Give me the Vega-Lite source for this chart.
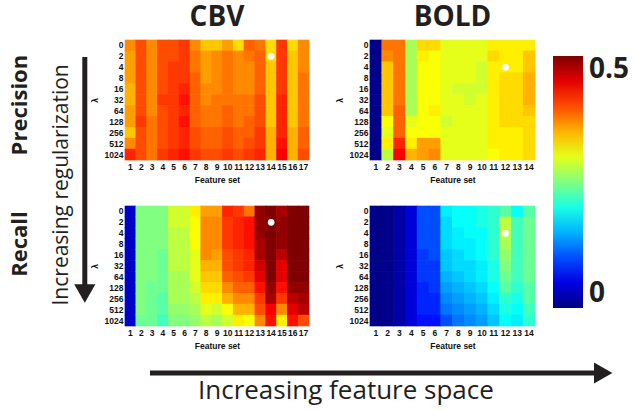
{
  "$schema": "https://vega.github.io/schema/vega-lite/v6.json",
  "padding": {"left": 5, "top": 3, "right": 2, "bottom": 2},
  "background": "white",
  "config": {
    "view": {"stroke": null},
    "axis": {"labelFont": "Liberation Sans", "labelFontWeight": "bold", "labelFontSize": 8.5, "labelColor": "#111", "titleFont": "Liberation Sans", "titleFontWeight": "bold", "titleFontSize": 8.5, "titleColor": "#111", "ticks": false, "domain": false, "labelPadding": 2, "titlePadding": 5, "grid": false, "labelOverlap": false},
    "title": {"font": "Open Sans", "fontSize": 28, "fontWeight": "bold", "color": "#231f20", "offset": 8, "frame": "group"},
    "text": {"font": "Open Sans", "color": "#231f20"},
    "rect": {"width": {"band": 1.06}, "height": {"band": 1.06}}
  },
  "datasets": {
    "cbvP": [
      {"f":1,"lambda":0,"v":0.37},{"f":1,"lambda":2,"v":0.36},{"f":1,"lambda":4,"v":0.36},{"f":1,"lambda":8,"v":0.36},{"f":1,"lambda":16,"v":0.35},{"f":1,"lambda":32,"v":0.35},{"f":1,"lambda":64,"v":0.36},{"f":1,"lambda":128,"v":0.36},{"f":1,"lambda":256,"v":0.34},{"f":1,"lambda":512,"v":0.37},{"f":1,"lambda":1024,"v":0.42},
      {"f":2,"lambda":0,"v":0.40},{"f":2,"lambda":2,"v":0.40},{"f":2,"lambda":4,"v":0.40},{"f":2,"lambda":8,"v":0.40},{"f":2,"lambda":16,"v":0.40},{"f":2,"lambda":32,"v":0.40},{"f":2,"lambda":64,"v":0.40},{"f":2,"lambda":128,"v":0.41},{"f":2,"lambda":256,"v":0.40},{"f":2,"lambda":512,"v":0.40},{"f":2,"lambda":1024,"v":0.40},
      {"f":3,"lambda":0,"v":0.37},{"f":3,"lambda":2,"v":0.37},{"f":3,"lambda":4,"v":0.37},{"f":3,"lambda":8,"v":0.37},{"f":3,"lambda":16,"v":0.37},{"f":3,"lambda":32,"v":0.37},{"f":3,"lambda":64,"v":0.37},{"f":3,"lambda":128,"v":0.38},{"f":3,"lambda":256,"v":0.38},{"f":3,"lambda":512,"v":0.38},{"f":3,"lambda":1024,"v":0.38},
      {"f":4,"lambda":0,"v":0.40},{"f":4,"lambda":2,"v":0.40},{"f":4,"lambda":4,"v":0.40},{"f":4,"lambda":8,"v":0.40},{"f":4,"lambda":16,"v":0.40},{"f":4,"lambda":32,"v":0.41},{"f":4,"lambda":64,"v":0.40},{"f":4,"lambda":128,"v":0.40},{"f":4,"lambda":256,"v":0.40},{"f":4,"lambda":512,"v":0.40},{"f":4,"lambda":1024,"v":0.41},
      {"f":5,"lambda":0,"v":0.40},{"f":5,"lambda":2,"v":0.40},{"f":5,"lambda":4,"v":0.41},{"f":5,"lambda":8,"v":0.41},{"f":5,"lambda":16,"v":0.41},{"f":5,"lambda":32,"v":0.41},{"f":5,"lambda":64,"v":0.41},{"f":5,"lambda":128,"v":0.41},{"f":5,"lambda":256,"v":0.41},{"f":5,"lambda":512,"v":0.41},{"f":5,"lambda":1024,"v":0.42},
      {"f":6,"lambda":0,"v":0.41},{"f":6,"lambda":2,"v":0.41},{"f":6,"lambda":4,"v":0.41},{"f":6,"lambda":8,"v":0.41},{"f":6,"lambda":16,"v":0.42},{"f":6,"lambda":32,"v":0.43},{"f":6,"lambda":64,"v":0.42},{"f":6,"lambda":128,"v":0.43},{"f":6,"lambda":256,"v":0.42},{"f":6,"lambda":512,"v":0.42},{"f":6,"lambda":1024,"v":0.43},
      {"f":7,"lambda":0,"v":0.37},{"f":7,"lambda":2,"v":0.38},{"f":7,"lambda":4,"v":0.38},{"f":7,"lambda":8,"v":0.39},{"f":7,"lambda":16,"v":0.39},{"f":7,"lambda":32,"v":0.39},{"f":7,"lambda":64,"v":0.39},{"f":7,"lambda":128,"v":0.39},{"f":7,"lambda":256,"v":0.40},{"f":7,"lambda":512,"v":0.40},{"f":7,"lambda":1024,"v":0.41},
      {"f":8,"lambda":0,"v":0.34},{"f":8,"lambda":2,"v":0.36},{"f":8,"lambda":4,"v":0.36},{"f":8,"lambda":8,"v":0.36},{"f":8,"lambda":16,"v":0.37},{"f":8,"lambda":32,"v":0.37},{"f":8,"lambda":64,"v":0.38},{"f":8,"lambda":128,"v":0.38},{"f":8,"lambda":256,"v":0.39},{"f":8,"lambda":512,"v":0.39},{"f":8,"lambda":1024,"v":0.40},
      {"f":9,"lambda":0,"v":0.34},{"f":9,"lambda":2,"v":0.37},{"f":9,"lambda":4,"v":0.37},{"f":9,"lambda":8,"v":0.37},{"f":9,"lambda":16,"v":0.37},{"f":9,"lambda":32,"v":0.38},{"f":9,"lambda":64,"v":0.38},{"f":9,"lambda":128,"v":0.38},{"f":9,"lambda":256,"v":0.39},{"f":9,"lambda":512,"v":0.39},{"f":9,"lambda":1024,"v":0.40},
      {"f":10,"lambda":0,"v":0.36},{"f":10,"lambda":2,"v":0.38},{"f":10,"lambda":4,"v":0.38},{"f":10,"lambda":8,"v":0.38},{"f":10,"lambda":16,"v":0.38},{"f":10,"lambda":32,"v":0.38},{"f":10,"lambda":64,"v":0.39},{"f":10,"lambda":128,"v":0.39},{"f":10,"lambda":256,"v":0.40},{"f":10,"lambda":512,"v":0.40},{"f":10,"lambda":1024,"v":0.41},
      {"f":11,"lambda":0,"v":0.33},{"f":11,"lambda":2,"v":0.37},{"f":11,"lambda":4,"v":0.37},{"f":11,"lambda":8,"v":0.37},{"f":11,"lambda":16,"v":0.37},{"f":11,"lambda":32,"v":0.38},{"f":11,"lambda":64,"v":0.38},{"f":11,"lambda":128,"v":0.38},{"f":11,"lambda":256,"v":0.39},{"f":11,"lambda":512,"v":0.39},{"f":11,"lambda":1024,"v":0.40},
      {"f":12,"lambda":0,"v":0.39},{"f":12,"lambda":2,"v":0.38},{"f":12,"lambda":4,"v":0.37},{"f":12,"lambda":8,"v":0.37},{"f":12,"lambda":16,"v":0.37},{"f":12,"lambda":32,"v":0.38},{"f":12,"lambda":64,"v":0.38},{"f":12,"lambda":128,"v":0.39},{"f":12,"lambda":256,"v":0.39},{"f":12,"lambda":512,"v":0.40},{"f":12,"lambda":1024,"v":0.41},
      {"f":13,"lambda":0,"v":0.38},{"f":13,"lambda":2,"v":0.39},{"f":13,"lambda":4,"v":0.39},{"f":13,"lambda":8,"v":0.39},{"f":13,"lambda":16,"v":0.39},{"f":13,"lambda":32,"v":0.40},{"f":13,"lambda":64,"v":0.40},{"f":13,"lambda":128,"v":0.40},{"f":13,"lambda":256,"v":0.41},{"f":13,"lambda":512,"v":0.41},{"f":13,"lambda":1024,"v":0.42},
      {"f":14,"lambda":0,"v":0.33},{"f":14,"lambda":2,"v":0.33},{"f":14,"lambda":4,"v":0.34},{"f":14,"lambda":8,"v":0.34},{"f":14,"lambda":16,"v":0.34},{"f":14,"lambda":32,"v":0.34},{"f":14,"lambda":64,"v":0.34},{"f":14,"lambda":128,"v":0.34},{"f":14,"lambda":256,"v":0.35},{"f":14,"lambda":512,"v":0.35},{"f":14,"lambda":1024,"v":0.35},
      {"f":15,"lambda":0,"v":0.41},{"f":15,"lambda":2,"v":0.41},{"f":15,"lambda":4,"v":0.41},{"f":15,"lambda":8,"v":0.41},{"f":15,"lambda":16,"v":0.41},{"f":15,"lambda":32,"v":0.42},{"f":15,"lambda":64,"v":0.42},{"f":15,"lambda":128,"v":0.42},{"f":15,"lambda":256,"v":0.42},{"f":15,"lambda":512,"v":0.43},{"f":15,"lambda":1024,"v":0.44},
      {"f":16,"lambda":0,"v":0.33},{"f":16,"lambda":2,"v":0.34},{"f":16,"lambda":4,"v":0.34},{"f":16,"lambda":8,"v":0.34},{"f":16,"lambda":16,"v":0.34},{"f":16,"lambda":32,"v":0.34},{"f":16,"lambda":64,"v":0.34},{"f":16,"lambda":128,"v":0.34},{"f":16,"lambda":256,"v":0.35},{"f":16,"lambda":512,"v":0.35},{"f":16,"lambda":1024,"v":0.35},
      {"f":17,"lambda":0,"v":0.37},{"f":17,"lambda":2,"v":0.37},{"f":17,"lambda":4,"v":0.37},{"f":17,"lambda":8,"v":0.38},{"f":17,"lambda":16,"v":0.38},{"f":17,"lambda":32,"v":0.38},{"f":17,"lambda":64,"v":0.38},{"f":17,"lambda":128,"v":0.38},{"f":17,"lambda":256,"v":0.39},{"f":17,"lambda":512,"v":0.39},{"f":17,"lambda":1024,"v":0.40}
    ],
    "cbvR": [
      {"f":1,"lambda":0,"v":0.035},{"f":1,"lambda":2,"v":0.035},{"f":1,"lambda":4,"v":0.035},{"f":1,"lambda":8,"v":0.035},{"f":1,"lambda":16,"v":0.035},{"f":1,"lambda":32,"v":0.035},{"f":1,"lambda":64,"v":0.035},{"f":1,"lambda":128,"v":0.035},{"f":1,"lambda":256,"v":0.035},{"f":1,"lambda":512,"v":0.035},{"f":1,"lambda":1024,"v":0.035},
      {"f":2,"lambda":0,"v":0.25},{"f":2,"lambda":2,"v":0.25},{"f":2,"lambda":4,"v":0.25},{"f":2,"lambda":8,"v":0.25},{"f":2,"lambda":16,"v":0.25},{"f":2,"lambda":32,"v":0.25},{"f":2,"lambda":64,"v":0.25},{"f":2,"lambda":128,"v":0.25},{"f":2,"lambda":256,"v":0.25},{"f":2,"lambda":512,"v":0.25},{"f":2,"lambda":1024,"v":0.24},
      {"f":3,"lambda":0,"v":0.25},{"f":3,"lambda":2,"v":0.25},{"f":3,"lambda":4,"v":0.25},{"f":3,"lambda":8,"v":0.25},{"f":3,"lambda":16,"v":0.25},{"f":3,"lambda":32,"v":0.25},{"f":3,"lambda":64,"v":0.25},{"f":3,"lambda":128,"v":0.24},{"f":3,"lambda":256,"v":0.24},{"f":3,"lambda":512,"v":0.24},{"f":3,"lambda":1024,"v":0.24},
      {"f":4,"lambda":0,"v":0.25},{"f":4,"lambda":2,"v":0.25},{"f":4,"lambda":4,"v":0.25},{"f":4,"lambda":8,"v":0.25},{"f":4,"lambda":16,"v":0.24},{"f":4,"lambda":32,"v":0.24},{"f":4,"lambda":64,"v":0.24},{"f":4,"lambda":128,"v":0.24},{"f":4,"lambda":256,"v":0.23},{"f":4,"lambda":512,"v":0.23},{"f":4,"lambda":1024,"v":0.22},
      {"f":5,"lambda":0,"v":0.29},{"f":5,"lambda":2,"v":0.29},{"f":5,"lambda":4,"v":0.28},{"f":5,"lambda":8,"v":0.28},{"f":5,"lambda":16,"v":0.28},{"f":5,"lambda":32,"v":0.28},{"f":5,"lambda":64,"v":0.27},{"f":5,"lambda":128,"v":0.27},{"f":5,"lambda":256,"v":0.27},{"f":5,"lambda":512,"v":0.26},{"f":5,"lambda":1024,"v":0.25},
      {"f":6,"lambda":0,"v":0.29},{"f":6,"lambda":2,"v":0.29},{"f":6,"lambda":4,"v":0.28},{"f":6,"lambda":8,"v":0.28},{"f":6,"lambda":16,"v":0.28},{"f":6,"lambda":32,"v":0.28},{"f":6,"lambda":64,"v":0.27},{"f":6,"lambda":128,"v":0.27},{"f":6,"lambda":256,"v":0.27},{"f":6,"lambda":512,"v":0.26},{"f":6,"lambda":1024,"v":0.25},
      {"f":7,"lambda":0,"v":0.32},{"f":7,"lambda":2,"v":0.31},{"f":7,"lambda":4,"v":0.31},{"f":7,"lambda":8,"v":0.31},{"f":7,"lambda":16,"v":0.30},{"f":7,"lambda":32,"v":0.30},{"f":7,"lambda":64,"v":0.30},{"f":7,"lambda":128,"v":0.29},{"f":7,"lambda":256,"v":0.28},{"f":7,"lambda":512,"v":0.27},{"f":7,"lambda":1024,"v":0.26},
      {"f":8,"lambda":0,"v":0.36},{"f":8,"lambda":2,"v":0.37},{"f":8,"lambda":4,"v":0.37},{"f":8,"lambda":8,"v":0.37},{"f":8,"lambda":16,"v":0.37},{"f":8,"lambda":32,"v":0.35},{"f":8,"lambda":64,"v":0.34},{"f":8,"lambda":128,"v":0.33},{"f":8,"lambda":256,"v":0.32},{"f":8,"lambda":512,"v":0.30},{"f":8,"lambda":1024,"v":0.28},
      {"f":9,"lambda":0,"v":0.36},{"f":9,"lambda":2,"v":0.37},{"f":9,"lambda":4,"v":0.37},{"f":9,"lambda":8,"v":0.37},{"f":9,"lambda":16,"v":0.36},{"f":9,"lambda":32,"v":0.35},{"f":9,"lambda":64,"v":0.34},{"f":9,"lambda":128,"v":0.33},{"f":9,"lambda":256,"v":0.32},{"f":9,"lambda":512,"v":0.29},{"f":9,"lambda":1024,"v":0.27},
      {"f":10,"lambda":0,"v":0.42},{"f":10,"lambda":2,"v":0.41},{"f":10,"lambda":4,"v":0.41},{"f":10,"lambda":8,"v":0.41},{"f":10,"lambda":16,"v":0.40},{"f":10,"lambda":32,"v":0.40},{"f":10,"lambda":64,"v":0.39},{"f":10,"lambda":128,"v":0.37},{"f":10,"lambda":256,"v":0.35},{"f":10,"lambda":512,"v":0.31},{"f":10,"lambda":1024,"v":0.29},
      {"f":11,"lambda":0,"v":0.41},{"f":11,"lambda":2,"v":0.42},{"f":11,"lambda":4,"v":0.42},{"f":11,"lambda":8,"v":0.42},{"f":11,"lambda":16,"v":0.41},{"f":11,"lambda":32,"v":0.41},{"f":11,"lambda":64,"v":0.40},{"f":11,"lambda":128,"v":0.39},{"f":11,"lambda":256,"v":0.37},{"f":11,"lambda":512,"v":0.35},{"f":11,"lambda":1024,"v":0.32},
      {"f":12,"lambda":0,"v":0.38},{"f":12,"lambda":2,"v":0.43},{"f":12,"lambda":4,"v":0.43},{"f":12,"lambda":8,"v":0.43},{"f":12,"lambda":16,"v":0.42},{"f":12,"lambda":32,"v":0.42},{"f":12,"lambda":64,"v":0.41},{"f":12,"lambda":128,"v":0.39},{"f":12,"lambda":256,"v":0.37},{"f":12,"lambda":512,"v":0.35},{"f":12,"lambda":1024,"v":0.31},
      {"f":13,"lambda":0,"v":0.49},{"f":13,"lambda":2,"v":0.49},{"f":13,"lambda":4,"v":0.49},{"f":13,"lambda":8,"v":0.48},{"f":13,"lambda":16,"v":0.48},{"f":13,"lambda":32,"v":0.46},{"f":13,"lambda":64,"v":0.45},{"f":13,"lambda":128,"v":0.43},{"f":13,"lambda":256,"v":0.41},{"f":13,"lambda":512,"v":0.40},{"f":13,"lambda":1024,"v":0.37},
      {"f":14,"lambda":0,"v":0.50},{"f":14,"lambda":2,"v":0.50},{"f":14,"lambda":4,"v":0.50},{"f":14,"lambda":8,"v":0.50},{"f":14,"lambda":16,"v":0.50},{"f":14,"lambda":32,"v":0.50},{"f":14,"lambda":64,"v":0.50},{"f":14,"lambda":128,"v":0.49},{"f":14,"lambda":256,"v":0.48},{"f":14,"lambda":512,"v":0.44},{"f":14,"lambda":1024,"v":0.43},
      {"f":15,"lambda":0,"v":0.48},{"f":15,"lambda":2,"v":0.49},{"f":15,"lambda":4,"v":0.49},{"f":15,"lambda":8,"v":0.49},{"f":15,"lambda":16,"v":0.47},{"f":15,"lambda":32,"v":0.45},{"f":15,"lambda":64,"v":0.45},{"f":15,"lambda":128,"v":0.43},{"f":15,"lambda":256,"v":0.41},{"f":15,"lambda":512,"v":0.37},{"f":15,"lambda":1024,"v":0.32},
      {"f":16,"lambda":0,"v":0.50},{"f":16,"lambda":2,"v":0.50},{"f":16,"lambda":4,"v":0.50},{"f":16,"lambda":8,"v":0.50},{"f":16,"lambda":16,"v":0.50},{"f":16,"lambda":32,"v":0.50},{"f":16,"lambda":64,"v":0.50},{"f":16,"lambda":128,"v":0.49},{"f":16,"lambda":256,"v":0.47},{"f":16,"lambda":512,"v":0.45},{"f":16,"lambda":1024,"v":0.43},
      {"f":17,"lambda":0,"v":0.50},{"f":17,"lambda":2,"v":0.50},{"f":17,"lambda":4,"v":0.50},{"f":17,"lambda":8,"v":0.50},{"f":17,"lambda":16,"v":0.50},{"f":17,"lambda":32,"v":0.50},{"f":17,"lambda":64,"v":0.50},{"f":17,"lambda":128,"v":0.49},{"f":17,"lambda":256,"v":0.48},{"f":17,"lambda":512,"v":0.47},{"f":17,"lambda":1024,"v":0.40}
    ],
    "boldP": [
      {"f":1,"lambda":0,"v":0.005},{"f":1,"lambda":2,"v":0.005},{"f":1,"lambda":4,"v":0.005},{"f":1,"lambda":8,"v":0.005},{"f":1,"lambda":16,"v":0.005},{"f":1,"lambda":32,"v":0.005},{"f":1,"lambda":64,"v":0.005},{"f":1,"lambda":128,"v":0.005},{"f":1,"lambda":256,"v":0.005},{"f":1,"lambda":512,"v":0.005},{"f":1,"lambda":1024,"v":0.005},
      {"f":2,"lambda":0,"v":0.38},{"f":2,"lambda":2,"v":0.37},{"f":2,"lambda":4,"v":0.34},{"f":2,"lambda":8,"v":0.34},{"f":2,"lambda":16,"v":0.34},{"f":2,"lambda":32,"v":0.34},{"f":2,"lambda":64,"v":0.34},{"f":2,"lambda":128,"v":0.31},{"f":2,"lambda":256,"v":0.30},{"f":2,"lambda":512,"v":0.32},{"f":2,"lambda":1024,"v":0.28},
      {"f":3,"lambda":0,"v":0.38},{"f":3,"lambda":2,"v":0.38},{"f":3,"lambda":4,"v":0.38},{"f":3,"lambda":8,"v":0.38},{"f":3,"lambda":16,"v":0.38},{"f":3,"lambda":32,"v":0.38},{"f":3,"lambda":64,"v":0.39},{"f":3,"lambda":128,"v":0.39},{"f":3,"lambda":256,"v":0.39},{"f":3,"lambda":512,"v":0.42},{"f":3,"lambda":1024,"v":0.44},
      {"f":4,"lambda":0,"v":0.27},{"f":4,"lambda":2,"v":0.27},{"f":4,"lambda":4,"v":0.27},{"f":4,"lambda":8,"v":0.27},{"f":4,"lambda":16,"v":0.27},{"f":4,"lambda":32,"v":0.27},{"f":4,"lambda":64,"v":0.27},{"f":4,"lambda":128,"v":0.30},{"f":4,"lambda":256,"v":0.31},{"f":4,"lambda":512,"v":0.32},{"f":4,"lambda":1024,"v":0.35},
      {"f":5,"lambda":0,"v":0.33},{"f":5,"lambda":2,"v":0.32},{"f":5,"lambda":4,"v":0.31},{"f":5,"lambda":8,"v":0.31},{"f":5,"lambda":16,"v":0.31},{"f":5,"lambda":32,"v":0.31},{"f":5,"lambda":64,"v":0.31},{"f":5,"lambda":128,"v":0.31},{"f":5,"lambda":256,"v":0.31},{"f":5,"lambda":512,"v":0.36},{"f":5,"lambda":1024,"v":0.36},
      {"f":6,"lambda":0,"v":0.33},{"f":6,"lambda":2,"v":0.31},{"f":6,"lambda":4,"v":0.31},{"f":6,"lambda":8,"v":0.31},{"f":6,"lambda":16,"v":0.31},{"f":6,"lambda":32,"v":0.31},{"f":6,"lambda":64,"v":0.32},{"f":6,"lambda":128,"v":0.31},{"f":6,"lambda":256,"v":0.31},{"f":6,"lambda":512,"v":0.36},{"f":6,"lambda":1024,"v":0.37},
      {"f":7,"lambda":0,"v":0.30},{"f":7,"lambda":2,"v":0.30},{"f":7,"lambda":4,"v":0.30},{"f":7,"lambda":8,"v":0.30},{"f":7,"lambda":16,"v":0.30},{"f":7,"lambda":32,"v":0.30},{"f":7,"lambda":64,"v":0.30},{"f":7,"lambda":128,"v":0.29},{"f":7,"lambda":256,"v":0.30},{"f":7,"lambda":512,"v":0.30},{"f":7,"lambda":1024,"v":0.30},
      {"f":8,"lambda":0,"v":0.30},{"f":8,"lambda":2,"v":0.30},{"f":8,"lambda":4,"v":0.30},{"f":8,"lambda":8,"v":0.30},{"f":8,"lambda":16,"v":0.29},{"f":8,"lambda":32,"v":0.30},{"f":8,"lambda":64,"v":0.30},{"f":8,"lambda":128,"v":0.30},{"f":8,"lambda":256,"v":0.30},{"f":8,"lambda":512,"v":0.30},{"f":8,"lambda":1024,"v":0.30},
      {"f":9,"lambda":0,"v":0.30},{"f":9,"lambda":2,"v":0.30},{"f":9,"lambda":4,"v":0.30},{"f":9,"lambda":8,"v":0.30},{"f":9,"lambda":16,"v":0.29},{"f":9,"lambda":32,"v":0.29},{"f":9,"lambda":64,"v":0.30},{"f":9,"lambda":128,"v":0.30},{"f":9,"lambda":256,"v":0.30},{"f":9,"lambda":512,"v":0.30},{"f":9,"lambda":1024,"v":0.30},
      {"f":10,"lambda":0,"v":0.30},{"f":10,"lambda":2,"v":0.30},{"f":10,"lambda":4,"v":0.29},{"f":10,"lambda":8,"v":0.29},{"f":10,"lambda":16,"v":0.29},{"f":10,"lambda":32,"v":0.30},{"f":10,"lambda":64,"v":0.30},{"f":10,"lambda":128,"v":0.30},{"f":10,"lambda":256,"v":0.30},{"f":10,"lambda":512,"v":0.30},{"f":10,"lambda":1024,"v":0.30},
      {"f":11,"lambda":0,"v":0.32},{"f":11,"lambda":2,"v":0.33},{"f":11,"lambda":4,"v":0.32},{"f":11,"lambda":8,"v":0.32},{"f":11,"lambda":16,"v":0.32},{"f":11,"lambda":32,"v":0.32},{"f":11,"lambda":64,"v":0.32},{"f":11,"lambda":128,"v":0.32},{"f":11,"lambda":256,"v":0.32},{"f":11,"lambda":512,"v":0.32},{"f":11,"lambda":1024,"v":0.31},
      {"f":12,"lambda":0,"v":0.32},{"f":12,"lambda":2,"v":0.32},{"f":12,"lambda":4,"v":0.32},{"f":12,"lambda":8,"v":0.33},{"f":12,"lambda":16,"v":0.33},{"f":12,"lambda":32,"v":0.33},{"f":12,"lambda":64,"v":0.33},{"f":12,"lambda":128,"v":0.33},{"f":12,"lambda":256,"v":0.32},{"f":12,"lambda":512,"v":0.32},{"f":12,"lambda":1024,"v":0.32},
      {"f":13,"lambda":0,"v":0.32},{"f":13,"lambda":2,"v":0.32},{"f":13,"lambda":4,"v":0.32},{"f":13,"lambda":8,"v":0.33},{"f":13,"lambda":16,"v":0.33},{"f":13,"lambda":32,"v":0.33},{"f":13,"lambda":64,"v":0.33},{"f":13,"lambda":128,"v":0.33},{"f":13,"lambda":256,"v":0.32},{"f":13,"lambda":512,"v":0.32},{"f":13,"lambda":1024,"v":0.32},
      {"f":14,"lambda":0,"v":0.32},{"f":14,"lambda":2,"v":0.34},{"f":14,"lambda":4,"v":0.34},{"f":14,"lambda":8,"v":0.35},{"f":14,"lambda":16,"v":0.35},{"f":14,"lambda":32,"v":0.35},{"f":14,"lambda":64,"v":0.34},{"f":14,"lambda":128,"v":0.33},{"f":14,"lambda":256,"v":0.33},{"f":14,"lambda":512,"v":0.33},{"f":14,"lambda":1024,"v":0.33}
    ],
    "boldR": [
      {"f":1,"lambda":0,"v":0.005},{"f":1,"lambda":2,"v":0.005},{"f":1,"lambda":4,"v":0.005},{"f":1,"lambda":8,"v":0.005},{"f":1,"lambda":16,"v":0.005},{"f":1,"lambda":32,"v":0.005},{"f":1,"lambda":64,"v":0.005},{"f":1,"lambda":128,"v":0.005},{"f":1,"lambda":256,"v":0.005},{"f":1,"lambda":512,"v":0.005},{"f":1,"lambda":1024,"v":0.005},
      {"f":2,"lambda":0,"v":0.005},{"f":2,"lambda":2,"v":0.005},{"f":2,"lambda":4,"v":0.005},{"f":2,"lambda":8,"v":0.005},{"f":2,"lambda":16,"v":0.005},{"f":2,"lambda":32,"v":0.005},{"f":2,"lambda":64,"v":0.005},{"f":2,"lambda":128,"v":0.005},{"f":2,"lambda":256,"v":0.005},{"f":2,"lambda":512,"v":0.005},{"f":2,"lambda":1024,"v":0.005},
      {"f":3,"lambda":0,"v":0.02},{"f":3,"lambda":2,"v":0.02},{"f":3,"lambda":4,"v":0.02},{"f":3,"lambda":8,"v":0.02},{"f":3,"lambda":16,"v":0.02},{"f":3,"lambda":32,"v":0.02},{"f":3,"lambda":64,"v":0.02},{"f":3,"lambda":128,"v":0.02},{"f":3,"lambda":256,"v":0.02},{"f":3,"lambda":512,"v":0.02},{"f":3,"lambda":1024,"v":0.02},
      {"f":4,"lambda":0,"v":0.045},{"f":4,"lambda":2,"v":0.045},{"f":4,"lambda":4,"v":0.045},{"f":4,"lambda":8,"v":0.045},{"f":4,"lambda":16,"v":0.045},{"f":4,"lambda":32,"v":0.045},{"f":4,"lambda":64,"v":0.045},{"f":4,"lambda":128,"v":0.045},{"f":4,"lambda":256,"v":0.045},{"f":4,"lambda":512,"v":0.045},{"f":4,"lambda":1024,"v":0.045},
      {"f":5,"lambda":0,"v":0.10},{"f":5,"lambda":2,"v":0.10},{"f":5,"lambda":4,"v":0.10},{"f":5,"lambda":8,"v":0.10},{"f":5,"lambda":16,"v":0.09},{"f":5,"lambda":32,"v":0.09},{"f":5,"lambda":64,"v":0.09},{"f":5,"lambda":128,"v":0.08},{"f":5,"lambda":256,"v":0.08},{"f":5,"lambda":512,"v":0.08},{"f":5,"lambda":1024,"v":0.07},
      {"f":6,"lambda":0,"v":0.10},{"f":6,"lambda":2,"v":0.10},{"f":6,"lambda":4,"v":0.10},{"f":6,"lambda":8,"v":0.10},{"f":6,"lambda":16,"v":0.10},{"f":6,"lambda":32,"v":0.09},{"f":6,"lambda":64,"v":0.09},{"f":6,"lambda":128,"v":0.09},{"f":6,"lambda":256,"v":0.08},{"f":6,"lambda":512,"v":0.08},{"f":6,"lambda":1024,"v":0.07},
      {"f":7,"lambda":0,"v":0.18},{"f":7,"lambda":2,"v":0.17},{"f":7,"lambda":4,"v":0.17},{"f":7,"lambda":8,"v":0.17},{"f":7,"lambda":16,"v":0.16},{"f":7,"lambda":32,"v":0.16},{"f":7,"lambda":64,"v":0.15},{"f":7,"lambda":128,"v":0.14},{"f":7,"lambda":256,"v":0.13},{"f":7,"lambda":512,"v":0.12},{"f":7,"lambda":1024,"v":0.10},
      {"f":8,"lambda":0,"v":0.19},{"f":8,"lambda":2,"v":0.19},{"f":8,"lambda":4,"v":0.18},{"f":8,"lambda":8,"v":0.18},{"f":8,"lambda":16,"v":0.17},{"f":8,"lambda":32,"v":0.17},{"f":8,"lambda":64,"v":0.16},{"f":8,"lambda":128,"v":0.15},{"f":8,"lambda":256,"v":0.14},{"f":8,"lambda":512,"v":0.13},{"f":8,"lambda":1024,"v":0.12},
      {"f":9,"lambda":0,"v":0.19},{"f":9,"lambda":2,"v":0.19},{"f":9,"lambda":4,"v":0.19},{"f":9,"lambda":8,"v":0.18},{"f":9,"lambda":16,"v":0.18},{"f":9,"lambda":32,"v":0.17},{"f":9,"lambda":64,"v":0.17},{"f":9,"lambda":128,"v":0.16},{"f":9,"lambda":256,"v":0.15},{"f":9,"lambda":512,"v":0.14},{"f":9,"lambda":1024,"v":0.13},
      {"f":10,"lambda":0,"v":0.20},{"f":10,"lambda":2,"v":0.20},{"f":10,"lambda":4,"v":0.19},{"f":10,"lambda":8,"v":0.19},{"f":10,"lambda":16,"v":0.19},{"f":10,"lambda":32,"v":0.18},{"f":10,"lambda":64,"v":0.18},{"f":10,"lambda":128,"v":0.17},{"f":10,"lambda":256,"v":0.16},{"f":10,"lambda":512,"v":0.15},{"f":10,"lambda":1024,"v":0.14},
      {"f":11,"lambda":0,"v":0.21},{"f":11,"lambda":2,"v":0.21},{"f":11,"lambda":4,"v":0.21},{"f":11,"lambda":8,"v":0.21},{"f":11,"lambda":16,"v":0.21},{"f":11,"lambda":32,"v":0.20},{"f":11,"lambda":64,"v":0.20},{"f":11,"lambda":128,"v":0.19},{"f":11,"lambda":256,"v":0.18},{"f":11,"lambda":512,"v":0.17},{"f":11,"lambda":1024,"v":0.16},
      {"f":12,"lambda":0,"v":0.23},{"f":12,"lambda":2,"v":0.28},{"f":12,"lambda":4,"v":0.28},{"f":12,"lambda":8,"v":0.27},{"f":12,"lambda":16,"v":0.26},{"f":12,"lambda":32,"v":0.25},{"f":12,"lambda":64,"v":0.24},{"f":12,"lambda":128,"v":0.23},{"f":12,"lambda":256,"v":0.21},{"f":12,"lambda":512,"v":0.20},{"f":12,"lambda":1024,"v":0.19},
      {"f":13,"lambda":0,"v":0.19},{"f":13,"lambda":2,"v":0.22},{"f":13,"lambda":4,"v":0.22},{"f":13,"lambda":8,"v":0.22},{"f":13,"lambda":16,"v":0.22},{"f":13,"lambda":32,"v":0.22},{"f":13,"lambda":64,"v":0.22},{"f":13,"lambda":128,"v":0.21},{"f":13,"lambda":256,"v":0.20},{"f":13,"lambda":512,"v":0.19},{"f":13,"lambda":1024,"v":0.18},
      {"f":14,"lambda":0,"v":0.23},{"f":14,"lambda":2,"v":0.24},{"f":14,"lambda":4,"v":0.24},{"f":14,"lambda":8,"v":0.24},{"f":14,"lambda":16,"v":0.24},{"f":14,"lambda":32,"v":0.24},{"f":14,"lambda":64,"v":0.24},{"f":14,"lambda":128,"v":0.23},{"f":14,"lambda":256,"v":0.23},{"f":14,"lambda":512,"v":0.22},{"f":14,"lambda":1024,"v":0.21}
    ]
  },
  "vconcat": [
    {
      "hconcat": [
        {
          "width": 76, "height": 300,
          "data": {"values": [{}]},
          "layer": [
            {"mark": {"type": "text", "text": "Precision", "angle": 270, "fontSize": 22, "fontWeight": "bold"}, "encoding": {"x": {"datum": 0.197, "type": "quantitative", "scale": {"domain": [0, 1], "nice": false, "zero": false}, "axis": null}, "y": {"datum": 0.217, "type": "quantitative", "scale": {"domain": [0, 1], "reverse": true, "nice": false, "zero": false}, "axis": null}}},
            {"mark": {"type": "text", "text": "Recall", "angle": 270, "fontSize": 22, "fontWeight": "bold"}, "encoding": {"x": {"datum": 0.197, "type": "quantitative"}, "y": {"datum": 0.68, "type": "quantitative"}}},
            {"mark": {"type": "text", "text": "Increasing regularization", "angle": 270, "fontSize": 21}, "encoding": {"x": {"datum": 0.75, "type": "quantitative"}, "y": {"datum": 0.483, "type": "quantitative"}}},
            {"mark": {"type": "rule", "strokeWidth": 5, "color": "#231f20"}, "encoding": {"x": {"datum": 1.05, "type": "quantitative"}, "y": {"datum": 0.057, "type": "quantitative"}, "y2": {"datum": 0.82}}},
            {"mark": {"type": "point", "shape": "triangle-down", "filled": true, "size": 450, "color": "#231f20", "opacity": 1}, "encoding": {"x": {"datum": 1.05, "type": "quantitative"}, "y": {"datum": 0.845, "type": "quantitative"}}}
          ]
        },
        {
          "spacing": 21,
          "vconcat": [
            {
              "spacing": 25,
              "hconcat": [
                {
                  "data": {"name": "cbvP"}, "width": 184, "height": 120, "title": "CBV",
                  "layer": [
                    {"mark": "rect", "encoding": {
                      "x": {"field": "f", "type": "ordinal", "scale": {"domain": [1,2,3,4,5,6,7,8,9,10,11,12,13,14,15,16,17]}, "axis": {"title": "Feature set", "labelAngle": 0}},
                      "y": {"field": "lambda", "type": "ordinal", "scale": {"domain": [0,2,4,8,16,32,64,128,256,512,1024]}, "axis": {"title": "λ"}},
                      "color": {"field": "v", "type": "quantitative", "scale": {"domain": [0, 0.0625, 0.1875, 0.3125, 0.4375, 0.5], "range": ["#00007f", "#0000ff", "#00ffff", "#ffff00", "#ff0000", "#7f0000"], "interpolate": "rgb"},
                        "legend": {"type": "gradient", "orient": "none", "legendX": 548, "legendY": 16, "direction": "vertical", "gradientLength": 252, "gradientThickness": 30, "values": [0, 0.5], "format": ".1~f", "labelFontSize": 28, "labelFont": "Open Sans", "labelFontWeight": "bold", "labelColor": "#231f20", "labelOffset": 6, "title": null, "gradientStrokeWidth": 0, "padding": 0}}
                    }},
                    {"data": {"values": [{"f": 14, "lambda": 2}]}, "mark": {"type": "circle", "color": "white", "size": 45, "opacity": 1}, "encoding": {"x": {"field": "f", "type": "ordinal"}, "y": {"field": "lambda", "type": "ordinal"}}}
                  ]
                },
                {
                  "data": {"name": "boldP"}, "width": 165, "height": 120, "title": "BOLD",
                  "layer": [
                    {"mark": "rect", "encoding": {
                      "x": {"field": "f", "type": "ordinal", "scale": {"domain": [1,2,3,4,5,6,7,8,9,10,11,12,13,14]}, "axis": {"title": "Feature set", "labelAngle": 0}},
                      "y": {"field": "lambda", "type": "ordinal", "scale": {"domain": [0,2,4,8,16,32,64,128,256,512,1024]}, "axis": {"title": "λ"}},
                      "color": {"field": "v", "type": "quantitative"}
                    }},
                    {"data": {"values": [{"f": 12, "lambda": 4}]}, "mark": {"type": "circle", "color": "white", "size": 45, "opacity": 1}, "encoding": {"x": {"field": "f", "type": "ordinal"}, "y": {"field": "lambda", "type": "ordinal"}}}
                  ]
                }
              ]
            },
            {
              "spacing": 25,
              "hconcat": [
                {
                  "data": {"name": "cbvR"}, "width": 184, "height": 120,
                  "layer": [
                    {"mark": "rect", "encoding": {
                      "x": {"field": "f", "type": "ordinal", "scale": {"domain": [1,2,3,4,5,6,7,8,9,10,11,12,13,14,15,16,17]}, "axis": {"title": "Feature set", "labelAngle": 0}},
                      "y": {"field": "lambda", "type": "ordinal", "scale": {"domain": [0,2,4,8,16,32,64,128,256,512,1024]}, "axis": {"title": "λ"}},
                      "color": {"field": "v", "type": "quantitative"}
                    }},
                    {"data": {"values": [{"f": 14, "lambda": 2}]}, "mark": {"type": "circle", "color": "white", "size": 45, "opacity": 1}, "encoding": {"x": {"field": "f", "type": "ordinal"}, "y": {"field": "lambda", "type": "ordinal"}}}
                  ]
                },
                {
                  "data": {"name": "boldR"}, "width": 165, "height": 120,
                  "layer": [
                    {"mark": "rect", "encoding": {
                      "x": {"field": "f", "type": "ordinal", "scale": {"domain": [1,2,3,4,5,6,7,8,9,10,11,12,13,14]}, "axis": {"title": "Feature set", "labelAngle": 0}},
                      "y": {"field": "lambda", "type": "ordinal", "scale": {"domain": [0,2,4,8,16,32,64,128,256,512,1024]}, "axis": {"title": "λ"}},
                      "color": {"field": "v", "type": "quantitative"}
                    }},
                    {"data": {"values": [{"f": 12, "lambda": 4}]}, "mark": {"type": "circle", "color": "white", "size": 45, "opacity": 1}, "encoding": {"x": {"field": "f", "type": "ordinal"}, "y": {"field": "lambda", "type": "ordinal"}}}
                  ]
                }
              ]
            }
          ]
        }
      ],
      "spacing": -6
    },
    {
      "width": 629, "height": 55,
      "data": {"values": [{}]},
      "layer": [
        {"mark": {"type": "rule", "strokeWidth": 5, "color": "#231f20"}, "encoding": {"x": {"datum": 0.2305, "type": "quantitative", "scale": {"domain": [0, 1], "nice": false, "zero": false}, "axis": null}, "x2": {"datum": 0.94}, "y": {"datum": 0.327, "type": "quantitative", "scale": {"domain": [0, 1], "reverse": true, "nice": false, "zero": false}, "axis": null}}},
        {"mark": {"type": "point", "shape": "triangle-right", "filled": true, "size": 450, "color": "#231f20", "opacity": 1}, "encoding": {"x": {"datum": 0.951, "type": "quantitative"}, "y": {"datum": 0.327, "type": "quantitative"}}},
        {"mark": {"type": "text", "text": "Increasing feature space", "fontSize": 26}, "encoding": {"x": {"datum": 0.542, "type": "quantitative"}, "y": {"datum": 0.655, "type": "quantitative"}}}
      ]
    }
  ],
  "spacing": 5
}
